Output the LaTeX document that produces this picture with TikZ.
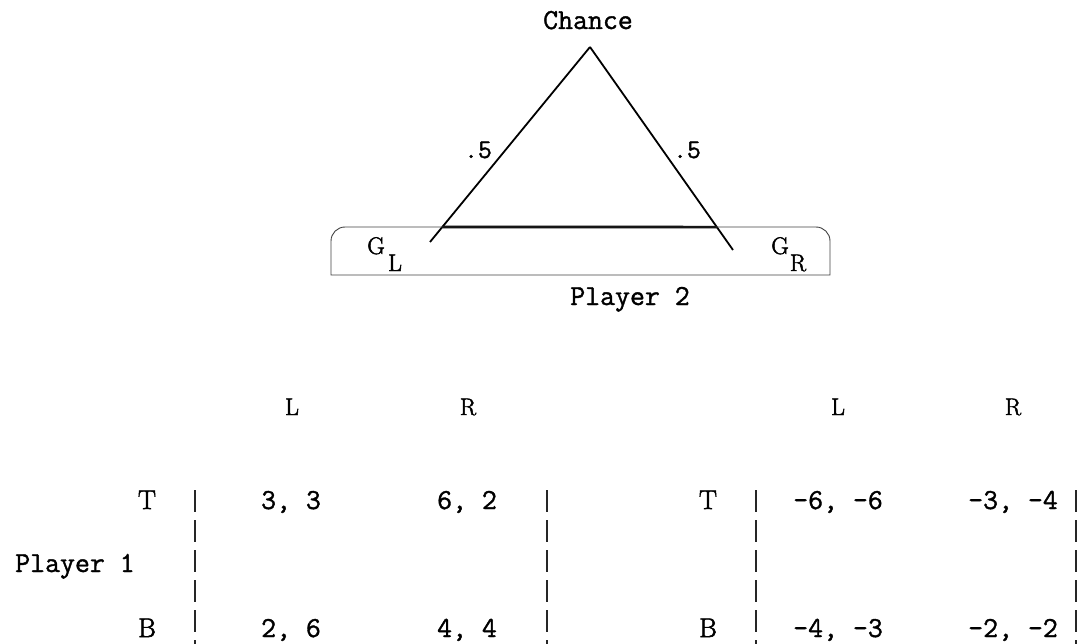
\documentclass[tikz,border=0pt]{standalone}
\usepackage{fontspec}
\newfontfamily\heavytt[FakeBold=1.3]{Latin Modern Mono}
\newfontfamily\heavyrm[FakeBold=2]{Latin Modern Roman}
\usetikzlibrary{calc}
\tikzset{
  ttxt/.style={font=\heavytt\fontsize{29}{34}\selectfont, inner sep=0pt, anchor=base},
  tthalf/.style={font=\heavytt\fontsize{27}{31}\selectfont, inner sep=0pt, anchor=base},
  rmbig/.style={font=\heavyrm\fontsize{27}{32}\selectfont, inner sep=0pt, anchor=base},
  rmsmall/.style={font=\heavyrm\fontsize{24}{28}\selectfont, inner sep=0pt, anchor=base},
  branch/.style={line width=1.8pt},
  infoset/.style={line width=2.6pt},
  boxline/.style={line width=0.9pt, black!75},
  bar/.style={line width=1.5pt, dash pattern=on 22pt off 8pt, black!85},
}
\begin{document}
\begin{tikzpicture}[x=1pt,y=-1pt]
\useasboundingbox (0,0) rectangle (1078,644);
% tree
\node[ttxt] (chance) at (588,29) {Chance};
\coordinate (apex) at (590,47);
\coordinate (lend) at (430,242);
\coordinate (rend) at (733,250);
\draw[branch] (apex) -- (lend);
\draw[branch] (apex) -- (rend);
\node[tthalf] (pl) at (478,158) {.5};
\node[tthalf] (pr) at (687,158) {.5};
\coordinate (lx) at ($(apex)!0.923!(lend)$);
\coordinate (rx) at ($(apex)!0.887!(rend)$);
\draw[infoset] (lx) -- (rx);
\draw[boxline] (331,275) -- (331,241) arc[start angle=180, end angle=270, radius=14]
  -- (816,227) arc[start angle=270, end angle=360, radius=14] -- (830,275) -- cycle;
\node[rmsmall] (gl) at (376,254) {G};
\node[rmsmall] (glsub) at (395,271) {L};
\node[rmsmall] (gr) at (780,254) {G};
\node[rmsmall] (grsub) at (798,271) {R};
% matrices
\node[ttxt] (p2) at (630,305) {Player 2};
\node[rmsmall] (hl1) at (292,415) {L};
\node[rmsmall] (hr1) at (468,415) {R};
\node[rmsmall] (hl2) at (838,415) {L};
\node[rmsmall] (hr2) at (1013,415) {R};
\node[rmbig] (t1) at (147,509) {T};
\node[rmbig] (t2) at (708,509) {T};
\node[rmbig] (b1) at (147,637) {B};
\node[rmbig] (b2) at (708,637) {B};
\node[ttxt] (p1) at (75,572) {Player 1};
\node[ttxt] (a11) at (291,509) {3, 3};
\node[ttxt] (a12) at (467,509) {6, 2};
\node[ttxt] (a21) at (291,637) {2, 6};
\node[ttxt] (a22) at (467,637) {4, 4};
\node[ttxt] (c11) at (838,509) {-6, -6};
\node[ttxt] (c12) at (1013,509) {-3, -4};
\node[ttxt] (c21) at (838,637) {-4, -3};
\node[ttxt] (c22) at (1013,637) {-2, -2};
\foreach \n/\x in {v1/195, v2/547, v3/756, v4/1076} {
  \coordinate (\n t) at (\x,490);
  \coordinate (\n b) at (\x,644);
  \draw[bar] (\n t) -- (\n b);
}
\end{tikzpicture}
\end{document}
